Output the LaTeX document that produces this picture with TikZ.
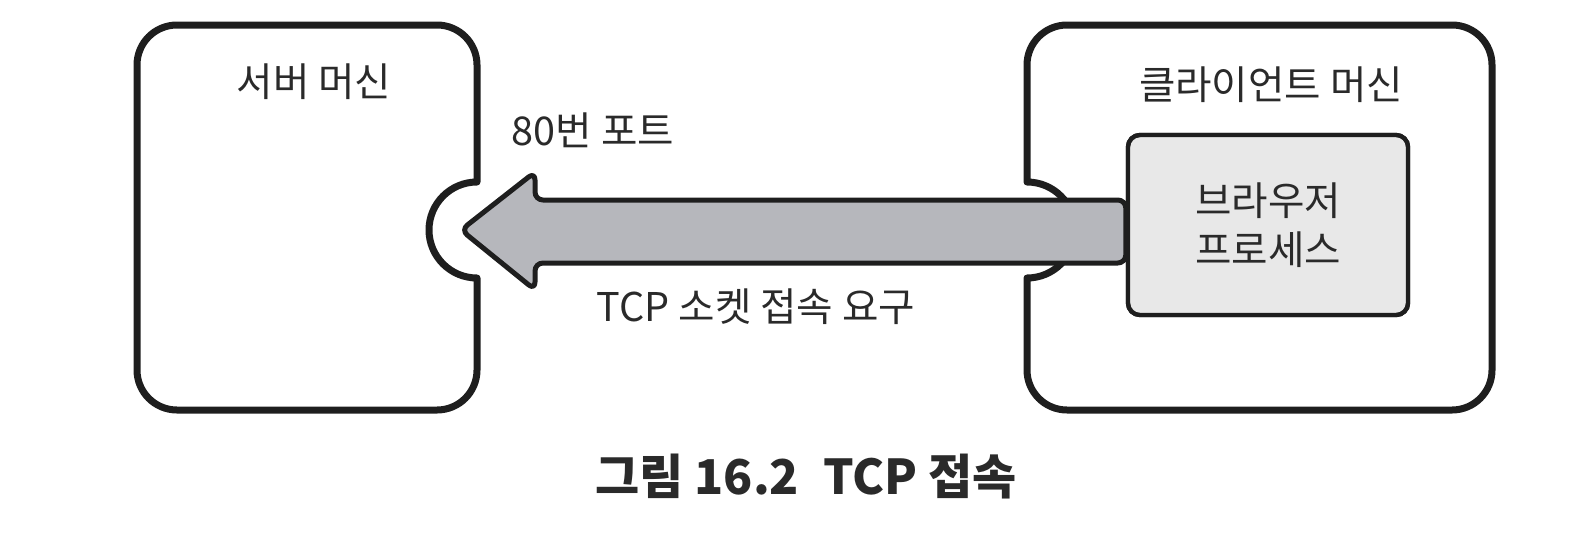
\documentclass[tikz,border=0pt]{standalone}
\usepackage{fontspec}
\setmainfont{Noto Sans CJK KR}
\usetikzlibrary{calc}
\definecolor{edge}{HTML}{1E1E1E}
\definecolor{arrowfill}{HTML}{B6B7BC}
\definecolor{procfill}{HTML}{E8E8E8}
\definecolor{txt}{HTML}{2A2A2A}
\begin{document}
\begin{tikzpicture}[x=0.5pt,y=0.5pt,
  machine/.style={draw=edge, line width=3.5pt, line join=round},
  lbl/.style={font=\fontsize{19.8pt}{23pt}\selectfont, text=txt, inner sep=0pt},
  procbox/.style={draw=edge, line width=2.2pt, fill=procfill, rounded corners=6pt,
    minimum width=140pt, minimum height=90pt, align=center,
    font=\fontsize{19.8pt}{24.5pt}\selectfont, text=txt},
  fatarrow/.style={draw=edge, line width=2.5pt, fill=arrowfill, rounded corners=4pt, line join=round},
  caption/.style={font=\fontsize{24pt}{28pt}\selectfont\bfseries, text=txt, inner sep=0pt}]
\useasboundingbox (0,0) rectangle (1588,543);
% server machine
\coordinate (srvport) at (477,313);
\draw[machine] (477,361) -- (477,478) arc[start angle=0,end angle=90,radius=40]
  -- (177,518) arc[start angle=90,end angle=180,radius=40]
  -- (137,173) arc[start angle=180,end angle=270,radius=40]
  -- (437,133) arc[start angle=270,end angle=360,radius=40]
  -- (477,265) arc[start angle=270,end angle=90,radius=48] -- cycle;
% client machine
\coordinate (cliport) at (1027,313);
\draw[machine] (1027,361) -- (1027,478) arc[start angle=180,end angle=90,radius=40]
  -- (1452,518) arc[start angle=90,end angle=0,radius=40]
  -- (1492,173) arc[start angle=0,end angle=-90,radius=40]
  -- (1067,133) arc[start angle=270,end angle=180,radius=40]
  -- (1027,265) arc[start angle=-90,end angle=90,radius=48] -- cycle;
% browser process node (placed first for names)
\node[procbox] (browser) at (1268,318) {브라우저\\프로세스};
% fat arrow from browser to server port
\draw[fatarrow] ($(browser.west)+(0,25)$) -- ($(srvport)+(58,30)$) -- ($(srvport)+(58,58)$)
  -- ($(srvport)+(-16,0)$) -- ($(srvport)+(58,-60)$) -- ($(srvport)+(58,-33)$)
  -- ($(browser.west)+(0,-38)$) -- cycle;
% redraw browser on top
\node[procbox] at (browser) {브라우저\\프로세스};
% labels
\node[lbl] (srvlabel) at (314,461) {서버 머신};
\node[lbl] (cliLabel) at (1271,458) {클라이언트 머신};
\node[lbl] (port) at (593,413) {80번 포트};
\node[lbl] (req) at (756,236) {TCP 소켓 접속 요구};
\node[caption] (cap) at (806,66) {그림 16.2\hspace{0.5em}TCP 접속};
\end{tikzpicture}
\end{document}
